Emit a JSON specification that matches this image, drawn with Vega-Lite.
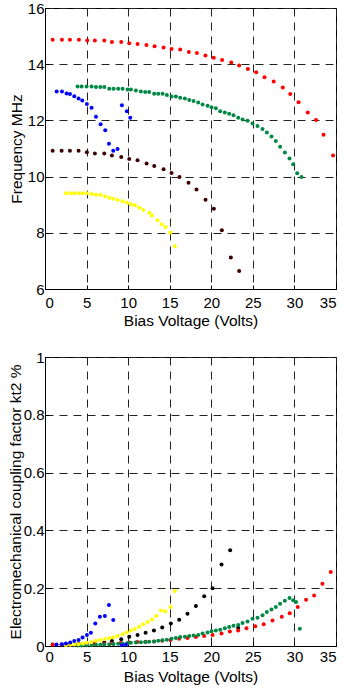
{
  "$schema": "https://vega.github.io/schema/vega-lite/v6.json",
  "background": "white",
  "padding": {"left": 7, "top": 0, "right": 0, "bottom": 0},
  "spacing": 20,
  "config": {
    "font": "Liberation Sans",
    "view": {"stroke": "#000", "strokeWidth": 1},
    "axis": {
      "labelFont": "Liberation Sans", "labelFontSize": 15, "labelColor": "#000",
      "titleFont": "Liberation Sans", "titleFontSize": 15.5, "titleFontWeight": "normal", "titleColor": "#000",
      "domainColor": "#000", "tickColor": "#000", "tickSize": -4,
      "grid": true, "gridColor": "#222", "gridDash": [8, 6], "gridOpacity": 1, "gridWidth": 1
    },
    "axisY": {"labelPadding": 5},
    "point": {"filled": true, "size": 16, "opacity": 1}
  },
  "datasets": {
    "freq": [
      {"s": "S1", "v": 0.92, "f": 14.87}, {"s": "S1", "v": 2.04, "f": 14.87}, {"s": "S1", "v": 3.0, "f": 14.87}, {"s": "S1", "v": 4.08, "f": 14.87},
      {"s": "S1", "v": 5.08, "f": 14.84}, {"s": "S1", "v": 6.0, "f": 14.84}, {"s": "S1", "v": 7.13, "f": 14.84}, {"s": "S1", "v": 8.05, "f": 14.79},
      {"s": "S1", "v": 9.17, "f": 14.79}, {"s": "S1", "v": 10.13, "f": 14.75}, {"s": "S1", "v": 11.13, "f": 14.72}, {"s": "S1", "v": 12.2, "f": 14.68},
      {"s": "S1", "v": 13.18, "f": 14.64}, {"s": "S1", "v": 14.26, "f": 14.59}, {"s": "S1", "v": 15.22, "f": 14.54}, {"s": "S1", "v": 16.26, "f": 14.52},
      {"s": "S1", "v": 17.3, "f": 14.43}, {"s": "S1", "v": 18.27, "f": 14.4}, {"s": "S1", "v": 19.3, "f": 14.31}, {"s": "S1", "v": 20.3, "f": 14.23},
      {"s": "S1", "v": 21.3, "f": 14.15}, {"s": "S1", "v": 22.4, "f": 14.06}, {"s": "S1", "v": 23.35, "f": 13.95}, {"s": "S1", "v": 24.4, "f": 13.83},
      {"s": "S1", "v": 25.4, "f": 13.71}, {"s": "S1", "v": 26.4, "f": 13.54}, {"s": "S1", "v": 27.5, "f": 13.38}, {"s": "S1", "v": 28.6, "f": 13.17},
      {"s": "S1", "v": 29.5, "f": 12.94}, {"s": "S1", "v": 30.5, "f": 12.65}, {"s": "S1", "v": 31.6, "f": 12.28}, {"s": "S1", "v": 32.6, "f": 12.01},
      {"s": "S1", "v": 33.5, "f": 11.49}, {"s": "S1", "v": 34.65, "f": 10.75},
      {"s": "S2", "v": 3.92, "f": 13.21}, {"s": "S2", "v": 4.4, "f": 13.21}, {"s": "S2", "v": 5.0, "f": 13.21}, {"s": "S2", "v": 5.6, "f": 13.21},
      {"s": "S2", "v": 6.13, "f": 13.19}, {"s": "S2", "v": 6.65, "f": 13.19}, {"s": "S2", "v": 7.13, "f": 13.19}, {"s": "S2", "v": 7.73, "f": 13.13},
      {"s": "S2", "v": 8.25, "f": 13.13}, {"s": "S2", "v": 8.8, "f": 13.13}, {"s": "S2", "v": 9.33, "f": 13.13}, {"s": "S2", "v": 9.93, "f": 13.1},
      {"s": "S2", "v": 10.33, "f": 13.1}, {"s": "S2", "v": 10.93, "f": 13.06}, {"s": "S2", "v": 11.53, "f": 13.03}, {"s": "S2", "v": 12.05, "f": 13.01},
      {"s": "S2", "v": 12.53, "f": 13.01}, {"s": "S2", "v": 13.13, "f": 12.95}, {"s": "S2", "v": 13.62, "f": 12.95}, {"s": "S2", "v": 14.14, "f": 12.95},
      {"s": "S2", "v": 14.66, "f": 12.9}, {"s": "S2", "v": 15.22, "f": 12.85}, {"s": "S2", "v": 15.74, "f": 12.85}, {"s": "S2", "v": 16.26, "f": 12.81},
      {"s": "S2", "v": 16.82, "f": 12.78}, {"s": "S2", "v": 17.35, "f": 12.73}, {"s": "S2", "v": 17.87, "f": 12.69}, {"s": "S2", "v": 18.43, "f": 12.64},
      {"s": "S2", "v": 18.95, "f": 12.57}, {"s": "S2", "v": 19.55, "f": 12.52}, {"s": "S2", "v": 20.03, "f": 12.47}, {"s": "S2", "v": 20.55, "f": 12.43},
      {"s": "S2", "v": 21.07, "f": 12.33}, {"s": "S2", "v": 21.63, "f": 12.28}, {"s": "S2", "v": 22.15, "f": 12.24}, {"s": "S2", "v": 22.67, "f": 12.18},
      {"s": "S2", "v": 23.24, "f": 12.09}, {"s": "S2", "v": 23.76, "f": 12.03}, {"s": "S2", "v": 24.36, "f": 11.99}, {"s": "S2", "v": 24.96, "f": 11.89},
      {"s": "S2", "v": 25.56, "f": 11.8}, {"s": "S2", "v": 26.16, "f": 11.69}, {"s": "S2", "v": 26.68, "f": 11.57}, {"s": "S2", "v": 27.24, "f": 11.43},
      {"s": "S2", "v": 27.76, "f": 11.27}, {"s": "S2", "v": 28.28, "f": 11.06}, {"s": "S2", "v": 28.85, "f": 10.86}, {"s": "S2", "v": 29.41, "f": 10.64},
      {"s": "S2", "v": 29.85, "f": 10.44}, {"s": "S2", "v": 30.33, "f": 10.12}, {"s": "S2", "v": 30.85, "f": 9.99},
      {"s": "S3", "v": 1.4, "f": 13.03}, {"s": "S3", "v": 2.04, "f": 13.03}, {"s": "S3", "v": 2.6, "f": 12.96}, {"s": "S3", "v": 3.0, "f": 12.94},
      {"s": "S3", "v": 3.52, "f": 12.86}, {"s": "S3", "v": 4.04, "f": 12.78}, {"s": "S3", "v": 4.48, "f": 12.71}, {"s": "S3", "v": 5.04, "f": 12.58},
      {"s": "S3", "v": 5.6, "f": 12.45}, {"s": "S3", "v": 6.13, "f": 12.13}, {"s": "S3", "v": 6.69, "f": 11.86}, {"s": "S3", "v": 7.25, "f": 11.65},
      {"s": "S3", "v": 7.69, "f": 11.17}, {"s": "S3", "v": 8.21, "f": 10.92}, {"s": "S3", "v": 8.73, "f": 10.98}, {"s": "S3", "v": 9.25, "f": 12.54},
      {"s": "S3", "v": 9.85, "f": 12.33}, {"s": "S3", "v": 10.25, "f": 12.09},
      {"s": "S4", "v": 0.92, "f": 10.92}, {"s": "S4", "v": 2.0, "f": 10.92}, {"s": "S4", "v": 3.0, "f": 10.92}, {"s": "S4", "v": 4.04, "f": 10.92},
      {"s": "S4", "v": 5.04, "f": 10.87}, {"s": "S4", "v": 6.0, "f": 10.82}, {"s": "S4", "v": 7.13, "f": 10.82}, {"s": "S4", "v": 8.05, "f": 10.75},
      {"s": "S4", "v": 9.17, "f": 10.7}, {"s": "S4", "v": 10.13, "f": 10.63}, {"s": "S4", "v": 11.13, "f": 10.58}, {"s": "S4", "v": 12.22, "f": 10.47},
      {"s": "S4", "v": 13.14, "f": 10.38}, {"s": "S4", "v": 14.26, "f": 10.26}, {"s": "S4", "v": 15.22, "f": 10.13}, {"s": "S4", "v": 16.18, "f": 9.99},
      {"s": "S4", "v": 17.26, "f": 9.78}, {"s": "S4", "v": 18.22, "f": 9.54}, {"s": "S4", "v": 19.31, "f": 9.18}, {"s": "S4", "v": 20.31, "f": 8.86},
      {"s": "S4", "v": 21.27, "f": 8.09}, {"s": "S4", "v": 22.35, "f": 7.12}, {"s": "S4", "v": 23.35, "f": 6.64},
      {"s": "S5", "v": 2.52, "f": 9.41}, {"s": "S5", "v": 3.04, "f": 9.41}, {"s": "S5", "v": 3.52, "f": 9.41}, {"s": "S5", "v": 4.04, "f": 9.41},
      {"s": "S5", "v": 4.52, "f": 9.41}, {"s": "S5", "v": 5.04, "f": 9.41}, {"s": "S5", "v": 5.6, "f": 9.38}, {"s": "S5", "v": 6.13, "f": 9.35},
      {"s": "S5", "v": 6.65, "f": 9.35}, {"s": "S5", "v": 7.21, "f": 9.3}, {"s": "S5", "v": 7.73, "f": 9.25}, {"s": "S5", "v": 8.21, "f": 9.21},
      {"s": "S5", "v": 8.73, "f": 9.17}, {"s": "S5", "v": 9.33, "f": 9.12}, {"s": "S5", "v": 9.85, "f": 9.08}, {"s": "S5", "v": 10.33, "f": 9.02},
      {"s": "S5", "v": 10.81, "f": 8.98}, {"s": "S5", "v": 11.33, "f": 8.9}, {"s": "S5", "v": 11.81, "f": 8.81}, {"s": "S5", "v": 12.54, "f": 8.71},
      {"s": "S5", "v": 12.86, "f": 8.62}, {"s": "S5", "v": 13.54, "f": 8.45}, {"s": "S5", "v": 14.02, "f": 8.3}, {"s": "S5", "v": 14.5, "f": 8.21},
      {"s": "S5", "v": 15.06, "f": 8.01}, {"s": "S5", "v": 15.62, "f": 7.52}
    ],
    "kt": [
      {"s": "S4", "v": 0.92, "k": 0.005}, {"s": "S4", "v": 2.0, "k": 0.005}, {"s": "S4", "v": 3.0, "k": 0.006}, {"s": "S4", "v": 4.04, "k": 0.007},
      {"s": "S4", "v": 5.04, "k": 0.008}, {"s": "S4", "v": 6.0, "k": 0.009}, {"s": "S4", "v": 7.13, "k": 0.012}, {"s": "S4", "v": 8.05, "k": 0.017},
      {"s": "S4", "v": 9.17, "k": 0.023}, {"s": "S4", "v": 10.13, "k": 0.032}, {"s": "S4", "v": 11.13, "k": 0.038}, {"s": "S4", "v": 12.1, "k": 0.046},
      {"s": "S4", "v": 13.1, "k": 0.054}, {"s": "S4", "v": 14.1, "k": 0.064}, {"s": "S4", "v": 15.14, "k": 0.078}, {"s": "S4", "v": 16.14, "k": 0.091},
      {"s": "S4", "v": 17.14, "k": 0.112}, {"s": "S4", "v": 18.15, "k": 0.138}, {"s": "S4", "v": 19.15, "k": 0.172}, {"s": "S4", "v": 20.15, "k": 0.2},
      {"s": "S4", "v": 21.23, "k": 0.282}, {"s": "S4", "v": 22.27, "k": 0.331}, {"s": "S4", "v": 23.23, "k": 0.063},
      {"s": "S1", "v": 0.92, "k": 0.004}, {"s": "S1", "v": 2.0, "k": 0.004}, {"s": "S1", "v": 3.0, "k": 0.005}, {"s": "S1", "v": 4.0, "k": 0.005},
      {"s": "S1", "v": 5.0, "k": 0.006}, {"s": "S1", "v": 6.0, "k": 0.007}, {"s": "S1", "v": 7.1, "k": 0.008}, {"s": "S1", "v": 8.1, "k": 0.009},
      {"s": "S1", "v": 9.1, "k": 0.01}, {"s": "S1", "v": 10.1, "k": 0.012}, {"s": "S1", "v": 11.1, "k": 0.014}, {"s": "S1", "v": 12.1, "k": 0.015},
      {"s": "S1", "v": 13.1, "k": 0.016}, {"s": "S1", "v": 14.1, "k": 0.018}, {"s": "S1", "v": 15.1, "k": 0.021}, {"s": "S1", "v": 16.14, "k": 0.025},
      {"s": "S1", "v": 17.14, "k": 0.028}, {"s": "S1", "v": 18.15, "k": 0.031}, {"s": "S1", "v": 19.15, "k": 0.035}, {"s": "S1", "v": 20.15, "k": 0.038},
      {"s": "S1", "v": 21.23, "k": 0.043}, {"s": "S1", "v": 22.23, "k": 0.05}, {"s": "S1", "v": 23.23, "k": 0.054}, {"s": "S1", "v": 24.23, "k": 0.061},
      {"s": "S1", "v": 25.28, "k": 0.068}, {"s": "S1", "v": 26.3, "k": 0.075}, {"s": "S1", "v": 27.36, "k": 0.088}, {"s": "S1", "v": 28.48, "k": 0.101},
      {"s": "S1", "v": 29.44, "k": 0.113}, {"s": "S1", "v": 30.4, "k": 0.135}, {"s": "S1", "v": 31.4, "k": 0.16}, {"s": "S1", "v": 32.37, "k": 0.175},
      {"s": "S1", "v": 33.37, "k": 0.215}, {"s": "S1", "v": 34.37, "k": 0.256},
      {"s": "S2", "v": 3.92, "k": 0.002}, {"s": "S2", "v": 4.4, "k": 0.002}, {"s": "S2", "v": 5.0, "k": 0.003}, {"s": "S2", "v": 5.6, "k": 0.003},
      {"s": "S2", "v": 6.13, "k": 0.004}, {"s": "S2", "v": 6.65, "k": 0.004}, {"s": "S2", "v": 7.13, "k": 0.005}, {"s": "S2", "v": 7.73, "k": 0.006},
      {"s": "S2", "v": 8.25, "k": 0.007}, {"s": "S2", "v": 8.8, "k": 0.008}, {"s": "S2", "v": 9.33, "k": 0.009}, {"s": "S2", "v": 9.93, "k": 0.01},
      {"s": "S2", "v": 10.33, "k": 0.011}, {"s": "S2", "v": 10.93, "k": 0.012}, {"s": "S2", "v": 11.53, "k": 0.013}, {"s": "S2", "v": 12.05, "k": 0.014},
      {"s": "S2", "v": 12.53, "k": 0.015}, {"s": "S2", "v": 13.13, "k": 0.016}, {"s": "S2", "v": 13.62, "k": 0.018}, {"s": "S2", "v": 14.14, "k": 0.02},
      {"s": "S2", "v": 14.66, "k": 0.022}, {"s": "S2", "v": 15.22, "k": 0.025}, {"s": "S2", "v": 15.74, "k": 0.028}, {"s": "S2", "v": 16.26, "k": 0.031},
      {"s": "S2", "v": 16.82, "k": 0.032}, {"s": "S2", "v": 17.35, "k": 0.035}, {"s": "S2", "v": 17.87, "k": 0.036}, {"s": "S2", "v": 18.43, "k": 0.038},
      {"s": "S2", "v": 18.95, "k": 0.043}, {"s": "S2", "v": 19.55, "k": 0.047}, {"s": "S2", "v": 20.03, "k": 0.051}, {"s": "S2", "v": 20.55, "k": 0.054},
      {"s": "S2", "v": 21.07, "k": 0.056}, {"s": "S2", "v": 21.63, "k": 0.061}, {"s": "S2", "v": 22.15, "k": 0.066}, {"s": "S2", "v": 22.67, "k": 0.07},
      {"s": "S2", "v": 23.24, "k": 0.073}, {"s": "S2", "v": 23.76, "k": 0.08}, {"s": "S2", "v": 24.36, "k": 0.085}, {"s": "S2", "v": 24.96, "k": 0.094},
      {"s": "S2", "v": 25.56, "k": 0.098}, {"s": "S2", "v": 26.16, "k": 0.106}, {"s": "S2", "v": 26.68, "k": 0.118}, {"s": "S2", "v": 27.24, "k": 0.126},
      {"s": "S2", "v": 27.76, "k": 0.135}, {"s": "S2", "v": 28.28, "k": 0.146}, {"s": "S2", "v": 28.85, "k": 0.157}, {"s": "S2", "v": 29.41, "k": 0.166},
      {"s": "S2", "v": 29.85, "k": 0.158}, {"s": "S2", "v": 30.2, "k": 0.152}, {"s": "S2", "v": 30.65, "k": 0.06},
      {"s": "S5", "v": 2.52, "k": 0.003}, {"s": "S5", "v": 3.04, "k": 0.004}, {"s": "S5", "v": 3.52, "k": 0.005}, {"s": "S5", "v": 4.04, "k": 0.006},
      {"s": "S5", "v": 4.52, "k": 0.009}, {"s": "S5", "v": 5.04, "k": 0.011}, {"s": "S5", "v": 5.6, "k": 0.014}, {"s": "S5", "v": 6.13, "k": 0.018},
      {"s": "S5", "v": 6.65, "k": 0.021}, {"s": "S5", "v": 7.21, "k": 0.024}, {"s": "S5", "v": 7.73, "k": 0.027}, {"s": "S5", "v": 8.21, "k": 0.03},
      {"s": "S5", "v": 8.73, "k": 0.035}, {"s": "S5", "v": 9.33, "k": 0.041}, {"s": "S5", "v": 9.85, "k": 0.047}, {"s": "S5", "v": 10.33, "k": 0.054},
      {"s": "S5", "v": 10.81, "k": 0.059}, {"s": "S5", "v": 11.33, "k": 0.067}, {"s": "S5", "v": 11.81, "k": 0.075}, {"s": "S5", "v": 12.34, "k": 0.083},
      {"s": "S5", "v": 12.86, "k": 0.092}, {"s": "S5", "v": 13.38, "k": 0.104}, {"s": "S5", "v": 13.94, "k": 0.123}, {"s": "S5", "v": 14.46, "k": 0.12},
      {"s": "S5", "v": 15.1, "k": 0.135}, {"s": "S5", "v": 15.62, "k": 0.19},
      {"s": "S3", "v": 1.4, "k": 0.005}, {"s": "S3", "v": 2.04, "k": 0.006}, {"s": "S3", "v": 2.52, "k": 0.009}, {"s": "S3", "v": 3.04, "k": 0.012},
      {"s": "S3", "v": 3.52, "k": 0.017}, {"s": "S3", "v": 4.04, "k": 0.021}, {"s": "S3", "v": 4.52, "k": 0.029}, {"s": "S3", "v": 5.04, "k": 0.038},
      {"s": "S3", "v": 5.52, "k": 0.046}, {"s": "S3", "v": 6.05, "k": 0.078}, {"s": "S3", "v": 6.6, "k": 0.101}, {"s": "S3", "v": 7.2, "k": 0.104},
      {"s": "S3", "v": 7.69, "k": 0.142}, {"s": "S3", "v": 8.21, "k": 0.09}, {"s": "S3", "v": 9.25, "k": 0.003}, {"s": "S3", "v": 9.73, "k": 0.005}
    ]
  },
  "resolve": {"scale": {"color": "independent"}},
  "vconcat": [
    {
      "width": 291, "height": 281,
      "data": {"name": "freq"},
      "mark": {"type": "point", "filled": true, "size": 16, "opacity": 1},
      "encoding": {
        "x": {"field": "v", "type": "quantitative", "scale": {"domain": [0, 35], "nice": false},
              "axis": {"title": "Bias Voltage (Volts)", "values": [0, 5, 10, 15, 20, 25, 30, 35], "labelPadding": 10, "titlePadding": 3}},
        "y": {"field": "f", "type": "quantitative", "scale": {"domain": [6, 16], "nice": false, "zero": false},
              "axis": {"title": "Frequency MHz", "values": [6, 8, 10, 12, 14, 16], "titlePadding": 3}},
        "color": {"field": "s", "type": "nominal", "legend": null,
                  "scale": {"domain": ["S1", "S2", "S3", "S4", "S5"], "range": ["#ff0000", "#008844", "#0000ff", "#3c0000", "#ffff00"]}}
      }
    },
    {
      "width": 291, "height": 289,
      "data": {"name": "kt"},
      "mark": {"type": "point", "filled": true, "size": 16, "opacity": 1},
      "encoding": {
        "x": {"field": "v", "type": "quantitative", "scale": {"domain": [0, 35], "nice": false},
              "axis": {"title": "Bias Voltage (Volts)", "values": [0, 5, 10, 15, 20, 25, 30, 35], "labelPadding": 7, "titlePadding": 5}},
        "y": {"field": "k", "type": "quantitative", "scale": {"domain": [0, 1], "nice": false},
              "axis": {"title": "Electromechanical coupling factor kt2 %", "values": [0, 0.2, 0.4, 0.6, 0.8, 1], "format": "~g", "titlePadding": 0}},
        "color": {"field": "s", "type": "nominal", "legend": null,
                  "scale": {"domain": ["S1", "S2", "S3", "S4", "S5"], "range": ["#ff0000", "#008844", "#0000ff", "#000000", "#ffff00"]}}
      }
    }
  ]
}
